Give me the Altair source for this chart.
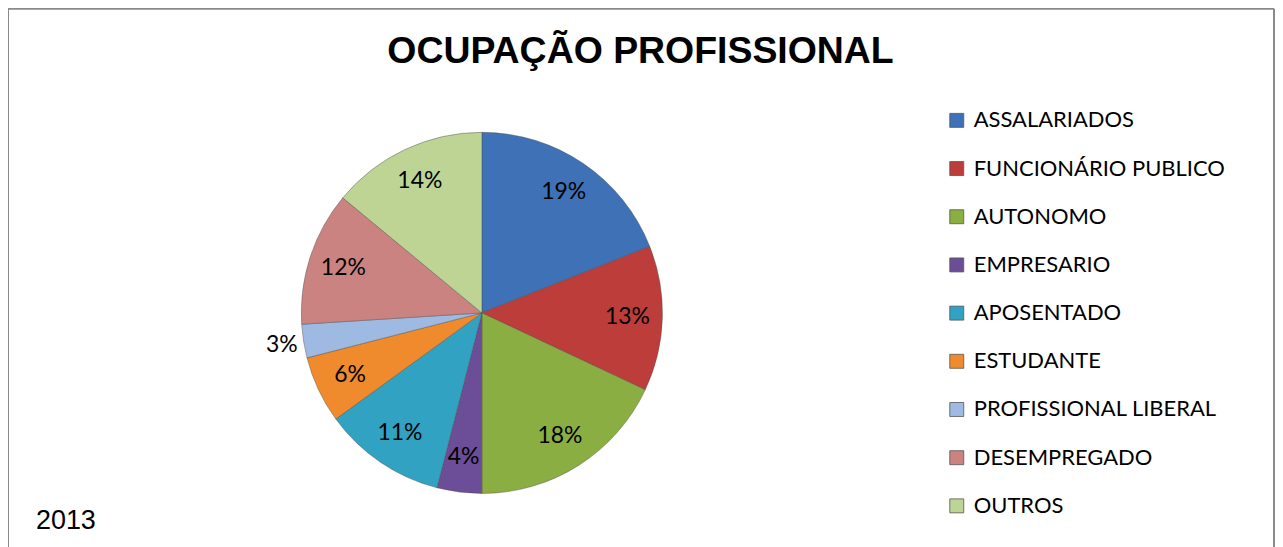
import altair as alt
import pandas as pd

categories = ["ASSALARIADOS", "FUNCIONÁRIO PUBLICO", "AUTONOMO", "EMPRESARIO",
              "APOSENTADO", "ESTUDANTE", "PROFISSIONAL LIBERAL", "DESEMPREGADO", "OUTROS"]
values = [19, 13, 18, 4, 11, 6, 3, 12, 14]
labels = ["19%", "13%", "18%", "4%", "11%", "6%", "3%", "12%", "14%"]
colors = ["#3E71B6", "#BC3D3A", "#8BAE42", "#6C4D97", "#31A2C2",
          "#EF8A2D", "#9EBAE2", "#CB8382", "#BDD495"]
title_text = "OCUPAÇÃO PROFISSIONAL"
year_text = "2013"

df = pd.DataFrame({"cat": categories, "value": values, "label": labels,
                   "idx": list(range(len(categories)))})

CX, CY, R = 475, 305, 181
W, H = 1270, 539

base = alt.Chart(df).encode(
    theta=alt.Theta("value:Q", stack=True),
    order=alt.Order("idx:Q"),
)

pie = base.mark_arc(outerRadius=R, stroke="#4a4a4a", strokeWidth=0.6, strokeOpacity=0.7).encode(
    x=alt.value(CX), y=alt.value(CY),
    color=alt.Color("cat:N", sort=categories,
                    scale=alt.Scale(domain=categories, range=colors),
                    legend=alt.Legend(title=None, orient="none", legendX=940, legendY=101,
                                      symbolType="square", symbolSize=196,
                                      symbolStrokeWidth=0.8, symbolStrokeColor="#555",
                                      labelFont="Lato", labelFontSize=22, labelColor="#000",
                                      labelOffset=6, labelLimit=500, rowPadding=26.3)),
)

inner_labels = base.mark_text(radius=146, font="Lato", fontSize=23, color="#000").encode(
    x=alt.value(CX), y=alt.value(CY),
    detail="cat:N",
    text="label:N",
    opacity=alt.condition("datum.value < 4", alt.value(0), alt.value(1)),
)

outer_labels = base.mark_text(radius=203, font="Lato", fontSize=23, color="#000").encode(
    x=alt.value(CX), y=alt.value(CY),
    detail="cat:N",
    text="label:N",
    opacity=alt.condition("datum.value < 4", alt.value(1), alt.value(0)),
)

title = alt.Chart(pd.DataFrame({"t": [title_text]})).mark_text(
    font="Liberation Sans", fontSize=37.5, fontWeight="bold", color="#000",
    align="center", baseline="middle").encode(
    x=alt.value(634), y=alt.value(43), text="t:N")

year = alt.Chart(pd.DataFrame({"t": [year_text]})).mark_text(
    font="Liberation Sans", fontSize=27, color="#000",
    align="left", baseline="middle").encode(
    x=alt.value(28), y=alt.value(514), text="t:N")

border_df = pd.DataFrame({"x": [0], "x2": [W - 1]})
frame = alt.Chart(border_df).mark_rule(color="#8a8a8a", strokeWidth=2)
top = frame.encode(x=alt.value(0), x2=alt.value(W - 1), y=alt.value(0))
left = frame.encode(x=alt.value(0), y=alt.value(0), y2=alt.value(H + 5))
right = frame.encode(x=alt.value(W - 1), y=alt.value(0), y2=alt.value(H + 5))

chart = alt.layer(pie, inner_labels, outer_labels, title, year, top, left, right).properties(
    width=W, height=H, padding=0, autosize=alt.AutoSizeParams(type="none"),
    background="white",
).configure_view(strokeWidth=0)

chart.save("out.html", embed_options={"renderer": "svg", "actions": False})
